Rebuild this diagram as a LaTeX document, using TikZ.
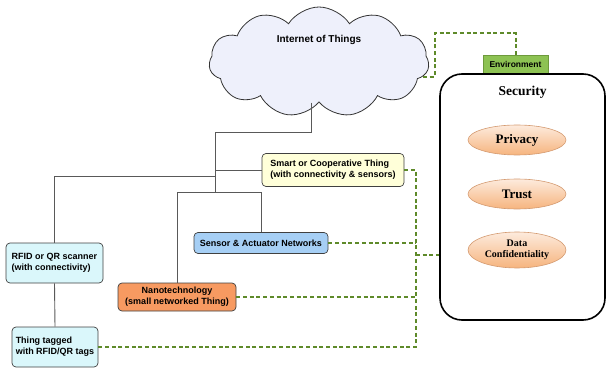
\documentclass[tikz,border=0pt]{standalone}
\usepackage{fontspec}
\setmainfont{Liberation Serif}
\newfontfamily\boxfont{Liberation Sans}
\usetikzlibrary{shapes.symbols,shapes.geometric}

\definecolor{cloudfill}{HTML}{EEF0FB}
\definecolor{smartfill}{HTML}{FFFFD9}
\definecolor{sensorfill}{HTML}{A6CFF5}
\definecolor{tagfill}{HTML}{DAF7FB}
\definecolor{nanofill}{HTML}{F79A61}
\definecolor{envfill}{HTML}{8DC253}
\definecolor{envline}{HTML}{6E9A3C}
\definecolor{linkgreen}{HTML}{5E8A2A}
\definecolor{peachtop}{HTML}{FDEBDD}
\definecolor{peachbot}{HTML}{F6B47E}
\definecolor{peachline}{HTML}{D49A70}

\tikzset{
  box/.style={draw=black!75, line width=0.7pt, rounded corners=4pt, inner sep=0pt,
    font=\boxfont\bfseries\fontsize{9}{11}\selectfont},
  thing/.style={box, align=left},
  tree/.style={draw=black!65, line width=0.9pt},
  link/.style={draw=linkgreen, line width=2pt, dash pattern=on 4pt off 2.7pt},
  aspect/.style={ellipse, draw=peachline, line width=0.6pt, top color=peachtop,
    bottom color=peachbot, minimum width=98pt, minimum height=30pt, inner sep=0pt,
    font=\bfseries\fontsize{13}{14}\selectfont, align=center}
}

\begin{document}
\begin{tikzpicture}[x=1pt,y=-1pt]
\useasboundingbox (0,0) rectangle (606,369);

% Cloud
\node[cloud, cloud puffs=11, cloud puff arc=115, cloud ignores aspect, draw=black!80,
  line width=0.8pt, fill=cloudfill, minimum width=220pt, minimum height=110pt,
  label={[yshift=22pt, font=\boxfont\bfseries\fontsize{10}{12}\selectfont]center:Internet of Things}]
  (iot) at (319,62) {};

% Things
\node[thing, fill=smartfill, minimum width=142pt, minimum height=33pt] (smart) at (333,170)
  {Smart or Cooperative Thing\\(with connectivity \& sensors)};
\node[thing, fill=sensorfill, minimum width=134pt, minimum height=21pt] (sensor) at (261,243)
  {Sensor \& Actuator Networks};
\node[thing, fill=tagfill, minimum width=97pt, minimum height=40pt] (rfid) at (54.5,263)
  {RFID or QR scanner\\(with connectivity)};
\node[box, fill=nanofill, minimum width=118pt, minimum height=28pt] (nano) at (177,297)
  {\begin{tabular}{@{}c@{}}Nanotechnology\\(small networked Thing)\end{tabular}};
\node[thing, fill=tagfill, minimum width=86pt, minimum height=40pt] (tag) at (55,347)
  {Thing tagged\\with RFID/QR tags};

% Security side
\node[draw=envline, fill=envfill, line width=0.6pt, minimum width=65pt, minimum height=18pt,
  inner sep=0pt, font=\boxfont\bfseries\fontsize{8.5}{10}\selectfont] (env) at (515.5,64) {Environment};
\node[draw=black, line width=1.6pt, rounded corners=22pt, minimum width=165pt, minimum height=246pt,
  label={[anchor=north, yshift=-9pt, font=\bfseries\fontsize{13.5}{14}\selectfont]north:Security}]
  (sec) at (522.5,197) {};
\node[aspect] (priv) at (517,140) {Privacy};
\node[aspect] (trust) at (517,194) {Trust};
\node[aspect, minimum height=36pt, font=\bfseries\fontsize{10}{11.5}\selectfont] (conf) at (517,250)
  {Data\\Confidentiality};

% Tree lines
\coordinate (j0) at (311,132);
\coordinate (j1) at (215,132);
\coordinate (j2) at (177,192);
\draw[tree] (iot.south -| j0) -- (j0) -- (j1) -- (j1 |- j2);
\draw[tree] (j1 |- smart.west) -- (smart.west);
\draw[tree] (j1 |- 0,176) -- (rfid.north |- 0,176) -- (rfid.north);
\draw[tree] (j2) -- (sensor.north |- j2) -- (sensor.north);
\draw[tree] (j2) -- (nano.north);
\draw[tree] (rfid.south) -- (tag.north);

% Links to security
\coordinate (bus) at (416,0);
\coordinate (c1) at (435,33);
\coordinate (sj) at (416,255);
\draw[link] (iot.-8) -| (c1) -| (env.north);
\draw[link] (smart.east) -- (smart.east -| bus) -- (tag.east -| bus) -- (tag.east);
\draw[link] (sensor.east) -- (sensor.east -| bus);
\draw[link] (nano.east) -- (nano.east -| bus);
\draw[link] (sj) -- (sj -| sec.west);
\end{tikzpicture}
\end{document}
